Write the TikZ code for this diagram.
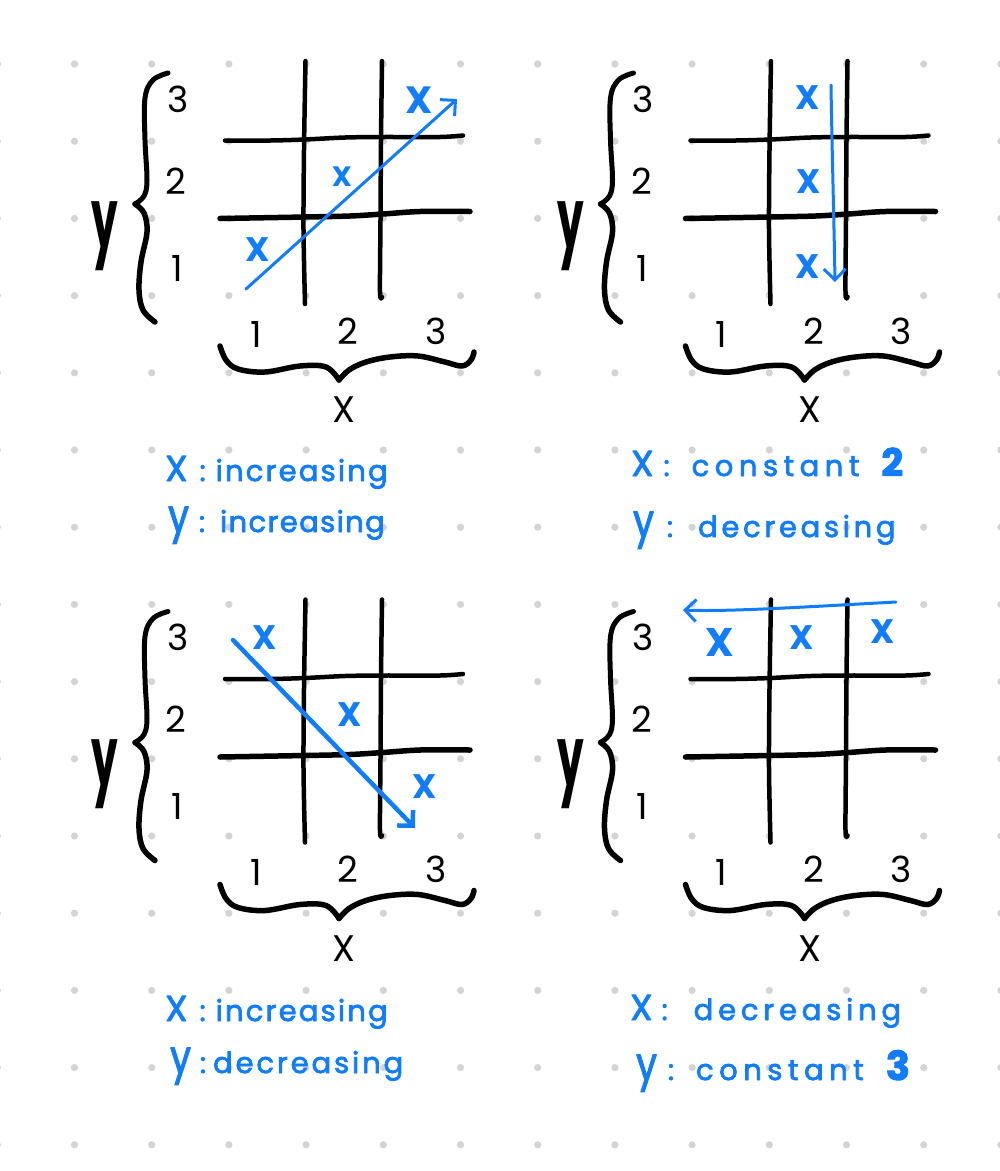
\documentclass[tikz,border=0pt]{standalone}
\usepackage{fontspec}
\setmainfont{Poppins}
\usetikzlibrary{arrows.meta}
\definecolor{inkblue}{RGB}{18,125,250}
\definecolor{dotgray}{RGB}{212,212,212}
\newcommand{\fsz}[1]{\fontsize{#1}{#1}\selectfont}
\newfontfamily\handfont[FakeBold=2.5]{Poppins}
% word with letter spacing
\newcommand{\hw}[2]{{\addfontfeature{LetterSpace=#1}#2}}
\newcommand{\yy}{{\fsz{46}\scalebox{0.8}[1]{y}}}
\begin{document}
\begin{tikzpicture}[x=1pt,y=-1pt,line cap=round,line join=round,
  gridline/.style={line width=4.5pt,black},
  bracestroke/.style={line width=5pt,black},
  numlab/.style={inner sep=0pt,font=\fsz{36}},
  axlab/.style={inner sep=0pt},
  xmark/.style={inner sep=0pt,text=inkblue,font=\bfseries},
  bluelab/.style={inner sep=0pt,anchor=base west,text=inkblue,font=\handfont\fsz{29}},
  bluearrow/.style={draw=inkblue,line width=3pt,-{Straight Barb[length=11pt,width=22pt]}}]
\fill[white] (0,0) rectangle (1000,1171);
\useasboundingbox (0,0) rectangle (1000,1171);
% dot grid
\foreach \i in {0,...,13}{\foreach \j in {0,...,14}{
  \fill[dotgray] ({-2.7+77.2*\i},{64+77.2*\j}) circle (3.6);}}
% panel templates
\foreach \px/\py/\k in {0/0/a,465.5/0/b,0/538.5/c,465.5/538.5/d}{
\begin{scope}[shift={(\px,\py)}]
  \draw[gridline] plot[smooth] coordinates {(305.5,61) (304,150) (303.5,230) (305,304)};
  \draw[gridline] plot[smooth] coordinates {(382,61) (381,140) (380.5,220) (380,292) (382,297)};
  \draw[gridline] plot[smooth] coordinates {(225,140.5) (270,140.5) (305,139.5) (345,137.5) (383,137) (440,137) (463,135.5)};
  \draw[gridline,line width=5.5pt] plot[smooth] coordinates {(220,218.5) (305,217) (350,216) (383,214) (420,211.5) (470,211.5)};
  % left brace
  \draw[bracestroke] plot[smooth,tension=0.6] coordinates {(168,73) (153,80) (145,98) (145,140) (147,180) (144,196) (135,204)};
  \draw[bracestroke,line width=5.5pt] plot[smooth,tension=0.6] coordinates {(135,204) (144,213) (147,232) (141,262) (139,290) (143,310) (155,322)};
  % bottom brace
  \draw[bracestroke,line width=5.5pt] plot[smooth,tension=0.6] coordinates {(220,346) (226,360) (238,369) (265,372) (300,366) (326,367) (339,380)};
  \draw[bracestroke,line width=5.5pt] plot[smooth,tension=0.6] coordinates {(339,380) (349,370) (366,362) (390,357) (418,356) (445,362) (462,366) (471,360) (474,352)};
  % labels
  \node[numlab] (\k-y3) at (178,99) {3};
  \node[numlab] (\k-y2) at (176,181) {2};
  \node[numlab] (\k-y1) at (177,268) {1};
  \node[numlab] (\k-x1) at (256,334) {1};
  \node[numlab] (\k-x2) at (348,331) {2};
  \node[numlab] (\k-x3) at (436,331) {3};
  \node[axlab] (\k-ylab) at (105,236) {\fsz{84}\bfseries\scalebox{0.5}[1]{y}};
  \node[axlab] (\k-xlab) at (344,410) {\fsz{37}X};
\end{scope}}
% panel a (top left)
\node[xmark,font=\bfseries\fsz{34}] (a-m1) at (258,250) {X};
\node[xmark,font=\bfseries\fsz{28}] (a-m2) at (342,177) {X};
\node[xmark,font=\bfseries\fsz{38}] (a-m3) at (419,100) {X};
\coordinate (a-s) at (246,289);
\coordinate (a-e) at (457,99);
\draw[bluearrow] (a-s) -- (a-e);
\node[bluelab] (a-l1) at (165,481) {{\fsz{36}X}\hspace{12pt}:\hspace{10pt}\hw{7.6}{increasing}};
\node[bluelab] (a-l2) at (168,532) {\yy\hspace{10pt}:\hspace{15pt}\hw{4.8}{increasing}};
% panel b (top right)
\node[xmark,font=\bfseries\fsz{34}] (b-m1) at (808,98) {X};
\node[xmark,font=\bfseries\fsz{34}] (b-m2) at (809,182) {X};
\node[xmark,font=\bfseries\fsz{34}] (b-m3) at (808,267) {X};
\coordinate (b-s) at (831,85);
\coordinate (b-e) at (835,282);
\draw[bluearrow] (b-s) .. controls (832,150) and (834,220) .. (b-e);
\node[bluelab] (b-l1) at (631,476) {{\fsz{36}X}\hspace{10pt}:\hspace{22pt}\hw{19}{constant}\hspace{22pt}{\bfseries\fsz{38}2}};
\node[bluelab] (b-l2) at (633,537) {\yy\hspace{13pt}:\hspace{25pt}\hw{12.8}{decreasing}};
% panel c (bottom left)
\node[xmark,font=\bfseries\fsz{34}] (c-m1) at (265,638) {X};
\node[xmark,font=\bfseries\fsz{34}] (c-m2) at (350,715) {X};
\node[xmark,font=\bfseries\fsz{34}] (c-m3) at (425,787) {X};
\coordinate (c-s) at (233,640);
\coordinate (c-e) at (415,828);
\draw[bluearrow,line width=4.5pt] (c-s) -- (c-e);
\node[bluelab] (c-l1) at (165,1021) {{\fsz{36}X}\hspace{12pt}:\hspace{10pt}\hw{7.6}{increasing}};
\node[bluelab] (c-l2) at (170,1073) {\yy\hspace{9pt}:\hspace{7pt}\hw{10}{decreasing}};
% panel d (bottom right)
\node[xmark,font=\bfseries\fsz{40}] (d-m1) at (720,642) {X};
\node[xmark,font=\bfseries\fsz{34}] (d-m2) at (802,638) {X};
\node[xmark,font=\bfseries\fsz{34}] (d-m3) at (883,632) {X};
\coordinate (d-s) at (896,602);
\coordinate (d-e) at (683,610);
\draw[bluearrow] (d-s) .. controls (820,606) and (730,612) .. (d-e);
\node[bluelab] (d-l1) at (630,1020) {{\fsz{36}X}\hspace{9pt}:\hspace{26pt}\hw{16.6}{decreasing}};
\node[bluelab] (d-l2) at (636,1080) {\yy\hspace{11pt}:\hspace{22pt}\hw{19}{constant}\hspace{22pt}{\bfseries\fsz{40}3}};
\end{tikzpicture}
\end{document}
